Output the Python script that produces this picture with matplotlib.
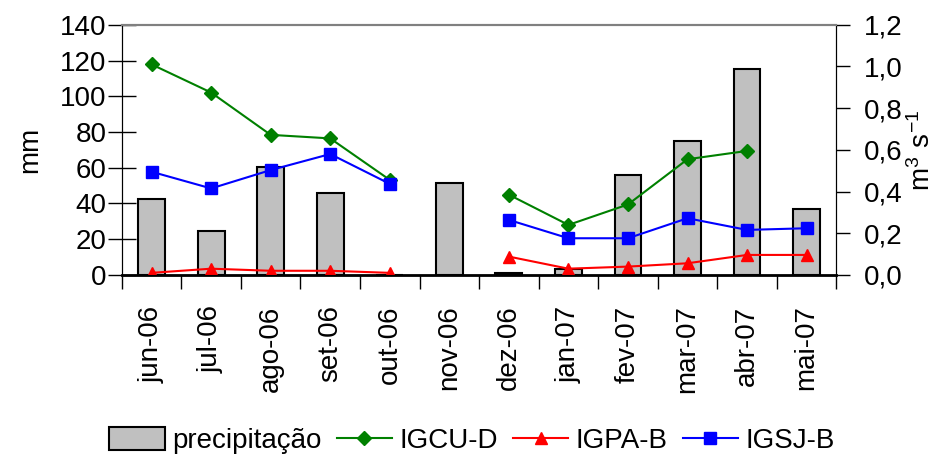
import matplotlib.pyplot as plt
import numpy as np

plt.rcParams['font.family'] = ['Liberation Sans', 'DejaVu Sans']
plt.rcParams['mathtext.fontset'] = 'custom'
plt.rcParams['mathtext.rm'] = 'Liberation Sans'

meses = ['jun-06', 'jul-06', 'ago-06', 'set-06', 'out-06', 'nov-06',
         'dez-06', 'jan-07', 'fev-07', 'mar-07', 'abr-07', 'mai-07']
precipitacao = [42.5, 24.5, 60.5, 46, 0, 51.5, 1, 3.5, 56, 75, 115.5, 37]
igcu_d = [1.01, 0.875, 0.672, 0.655, 0.456, np.nan, 0.385, 0.24, 0.338, 0.555, 0.595, np.nan]
igpa_b = [0.01, 0.03, 0.02, 0.02, 0.01, np.nan, 0.088, 0.03, 0.04, 0.056, 0.096, 0.096]
igsj_b = [0.495, 0.415, 0.503, 0.58, 0.437, np.nan, 0.264, 0.176, 0.176, 0.272, 0.216, 0.224]

fs = 20
x = np.arange(len(meses))

fig = plt.figure(figsize=(9.44, 4.59), dpi=100)
ax = fig.add_axes([0.129, 0.401, 0.757, 0.545])
ax2 = ax.twinx()

ax.bar(x, precipitacao, width=0.45, color='#C0C0C0', edgecolor='black', linewidth=1.5,
       label='precipitação', zorder=2)
ax2.plot(x, igcu_d, color='#008000', marker='D', markersize=7, lw=1.5, label='IGCU-D')
ax2.plot(x, igpa_b, color='#FF0000', marker='^', markersize=9, lw=1.5, label='IGPA-B')
ax2.plot(x, igsj_b, color='#0000FF', marker='s', markersize=8, lw=1.5, label='IGSJ-B')

ax.set_xlim(-0.5, len(meses) - 0.5)
ax.set_ylim(0, 140)
ax.set_yticks(np.arange(0, 141, 20))
ax2.set_ylim(0, 1.2)
rticks = np.arange(0, 1.21, 0.2)
ax2.set_yticks(rticks)
ax2.set_yticklabels([('%.1f' % v).replace('.', ',') for v in rticks])

# ticks between categories, labels at centers
ax.set_xticks(np.arange(-0.5, len(meses), 1))
ax.set_xticklabels([])
ax.set_xticks(x, minor=True)
ax.set_xticklabels(meses, minor=True, rotation=90, fontsize=fs)
ax.tick_params(axis='x', which='major', direction='out', length=10, width=1)
ax.tick_params(axis='x', which='minor', length=0, pad=22)
ax.tick_params(axis='y', direction='inout', length=20, width=1, labelsize=fs, pad=1)
ax2.tick_params(axis='y', direction='out', length=10, width=1, labelsize=fs, pad=10)

for a in (ax, ax2):
    a.spines['top'].set_color('#808080')
    a.spines['top'].set_linewidth(1.5)
ax.spines['bottom'].set_linewidth(2)

ax.set_ylabel('mm', fontsize=fs, labelpad=12)
ax2.set_ylabel('$\\mathregular{m^3 \\ s^{-1}}$', fontsize=fs, labelpad=4)

h1, l1 = ax.get_legend_handles_labels()
h2, l2 = ax2.get_legend_handles_labels()
fig.legend(h1 + h2, l1 + l2, loc='center', bbox_to_anchor=(0.5, 0.04), ncol=4,
           frameon=False, fontsize=fs, handlelength=2.0, handletextpad=0.25,
           columnspacing=0.55, handleheight=0.9, borderpad=0)

fig.savefig('out.png', dpi=100)
